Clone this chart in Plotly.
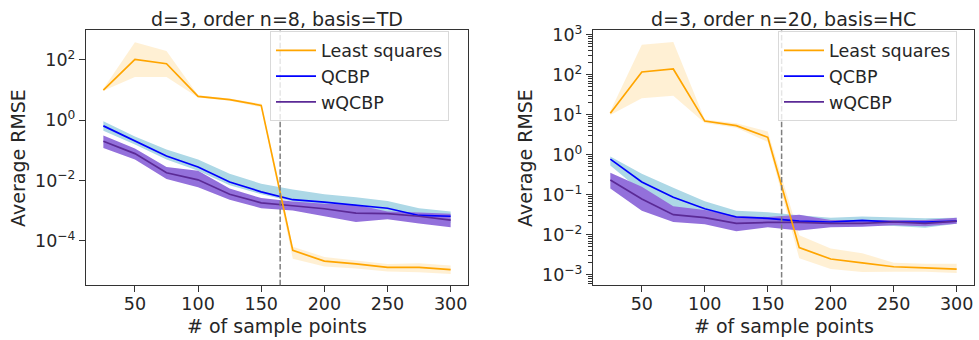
import plotly.graph_objects as go

# ---------------- data ----------------
n_samples = [25, 50, 75, 100, 125, 150, 175, 200, 225, 250, 275, 300]

# Left panel: d=3, order n=8, basis=TD
ls_mean_L = [10, 105, 75, 6.2, 4.8, 3.1, 4.8e-5, 2.1e-5, 1.7e-5, 1.3e-5, 1.3e-5, 1.1e-5]
ls_up_L = [11, 390, 200, 6.8, 5.3, 3.5, 6.3e-5, 2.9e-5, 2.2e-5, 1.7e-5, 1.8e-5, 1.5e-5]
ls_lo_L = [9.5, 27, 27, 5.7, 4.4, 2.7, 2.5e-5, 1.4e-5, 1.2e-5, 9.5e-6, 9e-6, 7.8e-6]

qc_mean_L = [0.65, 0.20, 0.065, 0.028, 0.0089, 0.0042, 0.0023, 0.0019, 0.0015, 0.0012, 0.00069, 0.00065]
qc_up_L = [0.93, 0.29, 0.107, 0.050, 0.0166, 0.0078, 0.0050, 0.0035, 0.0028, 0.0021, 0.0012, 0.00093]
qc_lo_L = [0.45, 0.155, 0.050, 0.021, 0.0069, 0.0035, 0.0020, 0.0014, 0.00107, 0.00085, 0.0005, 0.00039]

wq_mean_L = [0.20, 0.078, 0.018, 0.0105, 0.0035, 0.0018, 0.00145, 0.00115, 0.00083, 0.00079, 0.00065, 0.00048]
wq_up_L = [0.31, 0.115, 0.028, 0.021, 0.0054, 0.0026, 0.0020, 0.0017, 0.00155, 0.00093, 0.00087, 0.00079]
wq_lo_L = [0.12, 0.050, 0.0112, 0.006, 0.0023, 0.0012, 0.0010, 0.00065, 0.00042, 0.00052, 0.00037, 0.00028]

# Right panel: d=3, order n=20, basis=HC
ls_mean_R = [11, 118, 140, 7.0, 5.4, 2.75, 0.0048, 0.0025, 0.0020, 0.0016, 0.0015, 0.0014]
ls_up_R = [12.3, 570, 660, 7.7, 6.2, 3.85, 0.0098, 0.0046, 0.0035, 0.0020, 0.0019, 0.0019]
ls_lo_R = [10, 26, 30, 6.3, 4.8, 2.1, 0.0026, 0.0014, 0.00118, 0.0012, 0.0012, 0.00112]

qc_mean_R = [0.785, 0.21, 0.087, 0.045, 0.028, 0.026, 0.022, 0.021, 0.023, 0.021, 0.021, 0.022]
qc_up_R = [0.91, 0.34, 0.15, 0.069, 0.040, 0.037, 0.031, 0.027, 0.029, 0.027, 0.026, 0.027]
qc_lo_R = [0.54, 0.12, 0.048, 0.032, 0.0235, 0.0205, 0.0185, 0.0185, 0.0185, 0.017, 0.015, 0.019]

wq_mean_R = [0.235, 0.079, 0.032, 0.027, 0.0194, 0.0205, 0.0205, 0.0195, 0.0195, 0.021, 0.0195, 0.022]
wq_up_R = [0.36, 0.16, 0.052, 0.042, 0.0295, 0.028, 0.032, 0.0235, 0.0235, 0.024, 0.0235, 0.027]
wq_lo_R = [0.145, 0.040, 0.021, 0.0185, 0.0123, 0.0155, 0.0128, 0.0155, 0.016, 0.0175, 0.0165, 0.019]

threshold_L = 165
threshold_R = 161

titles = ["d=3, order n=8, basis=TD", "d=3, order n=20, basis=HC"]
series_names = ["Least squares", "QCBP", "wQCBP"]
x_ticks = [50, 100, 150, 200, 250, 300]
y_ticks_L = [1e-4, 1e-2, 1, 1e2]
y_ticktext_L = ["10<sup>−4</sup>", "10<sup>−2</sup>", "10<sup>0</sup>", "10<sup>2</sup>"]
y_ticks_R = [1e-3, 1e-2, 1e-1, 1, 10, 100, 1000]
y_ticktext_R = ["10<sup>−3</sup>", "10<sup>−2</sup>", "10<sup>−1</sup>", "10<sup>0</sup>",
                "10<sup>1</sup>", "10<sup>2</sup>", "10<sup>3</sup>"]

# ---------------- style ----------------
FONT = "DejaVu Sans"
TXT = "#262626"
LS_C, LS_BAND = "#FFA500", "rgba(255,165,0,0.17)"
QC_C, QC_BAND = "#0000FF", "#ADD8E6"
WQ_C, WQ_BAND = "#5B2A96", "#9370DB"

fig = go.Figure()

panels = [
    dict(xa="x", ya="y", legend="legend",
         ls=(ls_mean_L, ls_up_L, ls_lo_L), qc=(qc_mean_L, qc_up_L, qc_lo_L),
         wq=(wq_mean_L, wq_up_L, wq_lo_L), thr=threshold_L),
    dict(xa="x2", ya="y2", legend="legend2",
         ls=(ls_mean_R, ls_up_R, ls_lo_R), qc=(qc_mean_R, qc_up_R, qc_lo_R),
         wq=(wq_mean_R, wq_up_R, wq_lo_R), thr=threshold_R),
]

for p in panels:
    specs = [(p["ls"], LS_C, LS_BAND, series_names[0], 1),
             (p["qc"], QC_C, QC_BAND, series_names[1], 2),
             (p["wq"], WQ_C, WQ_BAND, series_names[2], 3)]
    for (mean, up, lo), c, band, name, rank in specs:
        fig.add_trace(go.Scatter(
            x=n_samples + n_samples[::-1], y=up + lo[::-1],
            fill="toself", fillcolor=band, line=dict(width=0), mode="lines",
            hoverinfo="skip", showlegend=False, xaxis=p["xa"], yaxis=p["ya"]))
    for (mean, up, lo), c, band, name, rank in [specs[1], specs[2], specs[0]]:
        fig.add_trace(go.Scatter(
            x=n_samples, y=mean, mode="lines", name=name,
            line=dict(color=c, width=1.7), legendrank=rank,
            legend=p["legend"], xaxis=p["xa"], yaxis=p["ya"]))
    fig.add_shape(type="line", xref=p["xa"], yref=p["ya"] + " domain",
                  x0=p["thr"], x1=p["thr"], y0=0, y1=1,
                  line=dict(color="#7f7f7f", width=1.5, dash="5.5px,2.4px"))

W, H = 979, 340
dom_L = [86 / W, 468 / W]
dom_R = [593 / W, 974 / W]
dom_y = [1 - 284 / H, 1 - 23 / H]

axis_common = dict(showgrid=False, zeroline=False, showline=True, mirror=True,
                   linecolor="#333333", linewidth=1.3, ticks="outside", ticklen=6,
                   tickwidth=1.3, tickcolor="#333333",
                   tickfont=dict(family=FONT, size=17.5, color=TXT))

minor_vals = [m * 10.0 ** k for k in range(-4, 3) for m in range(2, 10)]

legend_common = dict(yanchor="top", xanchor="left", y=1 - 24 / H,
                     bgcolor="rgba(255,255,255,0.8)", bordercolor="#d9d9d9", borderwidth=1,
                     itemwidth=40, font=dict(family=FONT, size=17.5, color=TXT))

fig.update_layout(
    width=W, height=H, margin=dict(l=0, r=0, t=0, b=0),
    paper_bgcolor="white", plot_bgcolor="white",
    font=dict(family=FONT, color=TXT),
    xaxis=dict(domain=dom_L, range=[11.25, 313.75], tickvals=x_ticks, anchor="y",
               ticklabelstandoff=-3, **axis_common),
    yaxis=dict(domain=dom_y, type="log", range=[-5.48, 2.98], tickvals=y_ticks_L,
               ticktext=y_ticktext_L, anchor="x", **axis_common),
    xaxis2=dict(domain=dom_R, range=[11.25, 313.75], tickvals=x_ticks, anchor="y2",
                ticklabelstandoff=-3, **axis_common),
    yaxis2=dict(domain=dom_y, type="log", range=[-3.26, 3.11], tickvals=y_ticks_R,
                ticktext=y_ticktext_R, anchor="x2",
                minor=dict(ticks="outside", ticklen=3.5, tickwidth=1, tickcolor="#333333",
                           tickvals=minor_vals),
                **axis_common),
    legend=dict(x=270 / W, **legend_common),
    legend2=dict(x=778 / W, **legend_common),
)

annotations = []
for title, dom in zip(titles, [dom_L, dom_R]):
    cx = (dom[0] + dom[1]) / 2
    annotations.append(dict(text=title, x=cx, y=1 - 11 / H, xref="paper", yref="paper",
                            showarrow=False, xanchor="center", yanchor="middle",
                            font=dict(family=FONT, size=19, color=TXT)))
    annotations.append(dict(text="# of sample points", x=cx, y=1 - 326 / H, xref="paper",
                            yref="paper", showarrow=False, xanchor="center", yanchor="middle",
                            font=dict(family=FONT, size=19, color=TXT)))
for xc in [18, 525]:
    annotations.append(dict(text="Average RMSE", x=xc / W, y=(dom_y[0] + dom_y[1]) / 2,
                            xref="paper", yref="paper", showarrow=False, textangle=-90,
                            xanchor="center", yanchor="middle",
                            font=dict(family=FONT, size=19, color=TXT)))
fig.update_layout(annotations=annotations)

fig.write_html("out.html")
